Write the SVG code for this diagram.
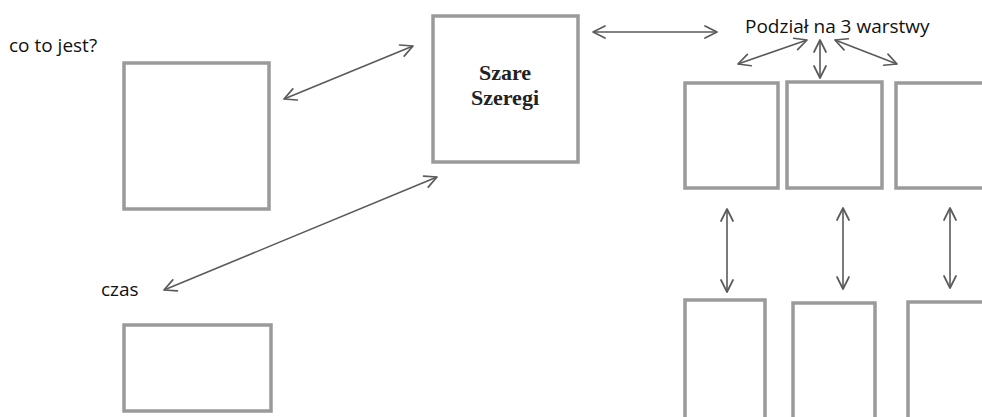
<svg xmlns="http://www.w3.org/2000/svg" width="982" height="417" viewBox="0 0 982 417">
<defs>
<style>
.box{fill:#fff;stroke:#9a9a9a;stroke-width:3.5}
.lbl{font-family:"Open Sans","Liberation Sans",sans-serif;font-size:19px;fill:#111}
.title{font-family:"Liberation Serif","Times New Roman",serif;font-size:22px;font-weight:bold;fill:#222;text-anchor:middle}
.conn{stroke:#5a5a5a;stroke-width:1.6;fill:none;marker-start:url(#ah);marker-end:url(#ah)}
</style>
<marker id="ah" viewBox="0 0 16 16" refX="14" refY="8" markerWidth="16" markerHeight="16" markerUnits="userSpaceOnUse" orient="auto-start-reverse">
<path d="M2,2 L14,8 L2,14" fill="none" stroke="#5a5a5a" stroke-width="1.7" stroke-linecap="round" stroke-linejoin="round"/>
</marker>
</defs>
<rect width="982" height="417" fill="#fff"/>
<g id="label-co-to-jest"><text class="lbl" x="9" y="52">co to jest?</text></g>
<g id="label-czas"><text class="lbl" x="101" y="296">czas</text></g>
<g id="label-podzial"><text class="lbl" x="745" y="33">Podział na 3 warstwy</text></g>
<g id="box-co-to-jest"><rect class="box" x="124" y="63" width="145" height="146"/></g>
<g id="box-szare-szeregi"><rect class="box" x="433" y="16" width="145" height="146"/>
<text class="title" x="505" y="80">Szare</text><text class="title" x="505" y="105">Szeregi</text></g>
<g id="box-czas"><rect class="box" x="124" y="325" width="147" height="86"/></g>
<g id="box-layer1"><rect class="box" x="685" y="83" width="93" height="105"/></g>
<g id="box-layer2"><rect class="box" x="787" y="82" width="95" height="106"/></g>
<g id="box-layer3"><rect class="box" x="896" y="83" width="95" height="105"/></g>
<g id="box-sub1"><rect class="box" x="685" y="300" width="80" height="130"/></g>
<g id="box-sub2"><rect class="box" x="793" y="303" width="82" height="130"/></g>
<g id="box-sub3"><rect class="box" x="908" y="302" width="90" height="130"/></g>
<g id="connectors">
<line class="conn" x1="284" y1="99" x2="413" y2="46"/>
<line class="conn" x1="164" y1="290" x2="437" y2="177"/>
<line class="conn" x1="593" y1="32" x2="717" y2="32"/>
<line class="conn" x1="807" y1="40" x2="738" y2="64"/>
<line class="conn" x1="820" y1="40" x2="820" y2="78"/>
<line class="conn" x1="835" y1="40" x2="897" y2="64"/>
<line class="conn" x1="727" y1="209" x2="727" y2="292"/>
<line class="conn" x1="843" y1="208" x2="843" y2="289"/>
<line class="conn" x1="950" y1="208" x2="950" y2="288"/>
</g>
</svg>
